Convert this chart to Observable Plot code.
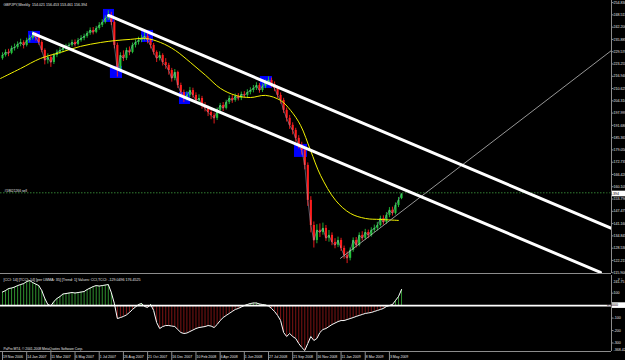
<!DOCTYPE html>
<html><head><meta charset="utf-8">
<script src="https://cdn.jsdelivr.net/npm/d3@7"></script>
<script src="https://cdn.jsdelivr.net/npm/@observablehq/plot@0.6"></script>
<style>
html,body{margin:0;padding:0;background:#000;}
#chart{position:relative;width:625px;height:360px;background:#000;overflow:hidden;}
#chart svg{position:absolute;left:0;display:block;}
</style></head><body><div id="chart"></div>
<script>
// ---------------- data ----------------
const symbolTitle = "GBPJPY,Weekly  154.021 156.453 153.461 156.394";
const indicatorTitle = "[CCI: 14] [TCCI: 14] [per LWMA: 35] [Trend: 1] Values: CCI,TCCI: -129.0496 176.4525";
const copyright = "PaPro MT4, \u00A9 2001-2008 MetaQuotes Software Corp.";
const orderLabel = "#18621266 sell";
const orderPrice = 157.0;
const lastPrice = 156.394;

const opens = [226.0,227.6,229.2,228.7,231.2,231.7,233.3,234.3,232.8,235.3,
236.4,237.9,236.9,234.3,230.2,225.1,226.6,224.0,227.6,229.2,
230.2,231.2,232.3,232.8,234.3,233.3,235.3,236.4,237.4,238.9,
240.5,239.5,241.5,243.1,244.6,246.6,248.2,244.6,232.8,219.9,
227.6,226.1,230.2,229.2,232.8,234.3,235.3,236.4,237.4,235.3,
232.8,229.2,226.1,227.6,224.0,222.5,219.9,215.8,218.9,212.2,
208.6,205.5,207.1,209.6,207.1,204.5,205.5,201.9,200.4,198.3,
196.8,195.3,199.4,201.9,200.4,203.5,205.5,204.5,206.6,205.5,
207.6,207.1,208.6,209.6,210.7,212.2,209.6,211.7,213.8,214.8,
212.7,210.7,207.1,204.5,199.4,195.3,191.7,189.1,185.0,181.4,
178.8,171.1,153.1,140.2,132.5,137.7,136.6,138.7,133.6,135.1,
131.5,130.0,132.5,128.4,124.8,123.3,127.4,132.5,130.0,135.1,
133.6,136.6,135.1,137.7,138.7,140.2,143.8,141.8,145.4,148.0,
146.4,150.5,154.021];
const highs = [229.0,230.5,230.8,232.4,233.5,234.6,236.0,235.2,236.5,238.0,
240.0,239.4,238.0,235.2,231.0,228.5,227.8,228.6,230.4,231.6,
232.5,233.4,234.0,235.5,235.6,236.4,237.8,238.6,240.0,241.8,
242.0,242.6,244.5,246.0,248.0,250.6,249.8,245.5,234.0,229.0,
230.0,231.4,232.0,234.0,235.6,237.0,238.0,240.0,238.8,236.2,
233.8,230.0,229.5,228.5,226.0,223.6,221.0,220.4,219.6,213.4,
209.8,209.0,211.2,210.8,208.4,207.4,206.6,203.4,201.6,199.8,
198.0,200.6,203.0,203.4,204.6,206.8,207.0,207.8,208.0,208.8,
209.0,210.0,211.0,212.2,213.6,213.2,213.0,215.0,216.6,216.0,
214.0,211.8,208.4,205.6,200.6,196.8,193.0,190.2,186.4,183.0,
179.8,172.4,155.0,142.0,140.6,141.0,141.4,140.2,137.6,136.4,
133.4,134.2,133.6,129.6,126.6,128.6,133.8,134.0,136.4,137.0,
138.2,137.8,139.0,140.4,141.8,145.0,145.2,146.8,149.4,149.6,
151.8,154.6,156.453];
const lows = [225.2,226.8,227.0,228.0,229.9,230.8,232.1,231.0,232.0,234.2,
235.5,235.0,232.9,229.0,222.8,223.2,221.5,223.0,226.5,228.1,
229.0,230.0,231.0,231.9,232.0,232.6,234.5,235.2,236.5,238.0,
238.2,238.8,240.6,242.0,243.8,245.5,243.0,231.0,216.5,219.0,
224.5,225.0,227.5,228.5,231.5,233.0,234.2,235.0,233.6,231.0,
227.8,224.0,224.8,222.2,220.5,217.5,213.9,214.6,210.6,206.4,
203.4,204.2,206.0,205.6,203.0,203.1,200.0,198.6,196.2,194.6,
192.4,194.2,198.2,198.8,199.6,202.4,203.0,203.6,204.2,204.4,
205.8,206.0,207.4,208.4,209.6,208.2,208.6,210.6,212.6,211.2,
209.0,205.6,202.6,197.8,193.4,189.6,186.8,183.0,179.6,176.4,
168.8,150.0,136.4,128.6,130.8,134.0,135.2,132.0,131.6,129.8,
128.2,128.8,126.8,122.8,120.6,122.0,126.4,128.6,129.2,132.2,
132.6,133.4,134.2,136.6,137.4,139.4,140.4,140.8,144.2,145.0,
145.6,149.4,153.461];
const closes = [227.6,229.2,228.7,231.2,231.7,233.3,234.3,232.8,235.3,236.4,
237.9,236.9,234.3,230.2,225.1,226.6,224.0,227.6,229.2,230.2,
231.2,232.3,232.8,234.3,233.3,235.3,236.4,237.4,238.9,240.5,
239.5,241.5,243.1,244.6,246.6,248.2,244.6,232.8,219.9,227.6,
226.1,230.2,229.2,232.8,234.3,235.3,236.4,237.4,235.3,232.8,
229.2,226.1,227.6,224.0,222.5,219.9,215.8,218.9,212.2,208.6,
205.5,207.1,209.6,207.1,204.5,205.5,201.9,200.4,198.3,196.8,
195.3,199.4,201.9,200.4,203.5,205.5,204.5,206.6,205.5,207.6,
207.1,208.6,209.6,210.7,212.2,209.6,211.7,213.8,214.8,212.7,
210.7,207.1,204.5,199.4,195.3,191.7,189.1,185.0,181.4,178.8,
171.1,153.1,140.2,132.5,137.7,136.6,138.7,133.6,135.1,131.5,
130.0,132.5,128.4,124.8,123.3,127.4,132.5,130.0,135.1,133.6,
136.6,135.1,137.7,138.7,140.2,143.8,141.8,145.4,148.0,146.4,
150.5,153.1,156.394];

// CCI-style oscillator, one value per weekly bar
const cciValues = [109,121,137,141,149,161,169,177,193,201,
185,173,161,121,57,9,-2,33,57,73,
93,97,101,105,101,105,109,113,129,141,
153,161,157,161,165,169,105,17,-104,-96,
-87,-75,-55,-31,-11,9,17,-7,-15,9,
-39,-136,-184,-168,-160,-160,-164,-168,-192,-216,
-224,-220,-208,-196,-184,-176,-172,-168,-160,-164,
-176,-152,-120,-96,-79,-63,-47,-31,-23,-11,
1,9,17,21,21,13,9,5,-3,-23,
-47,-79,-120,-216,-248,-224,-248,-264,-304,-336,
-360,-304,-248,-280,-264,-216,-192,-184,-168,-152,
-140,-128,-120,-120,-112,-104,-96,-87,-79,-71,
-63,-59,-55,-47,-39,-31,-23,-7,1,9,
41,73,129];

// slow moving average (yellow), read at sample weeks
const maWeeks  = [-0.66,5.95,12.57,19.19,25.8,32.4,37.4,42.3,47.3,52.3,57.2,62.2,67.2,72.1,77.1,82.0,87.0,92.0,95.3,98.6,101.9,105.2,110.2,115.1,120.1,125.0,131.0];
const maValues = [215.8,220.9,226.1,229.2,232.3,234.3,235.3,235.9,236.4,234.3,230.2,224.0,217.4,210.7,207.1,206.0,207.1,204.5,199.4,191.7,178.8,166.0,153.1,146.4,143.8,143.3,142.8];

// trend lines: [week, price] endpoints
const upperChannel = [[35.1,248.2],[201.46,138.7]];
const lowerChannel = [[10.25,238.9],[197.8,116.1]];
const supportLine  = [[111.8,123.3],[201.46,230.2]];

// blue rectangles: week range and price range
const boxWeek1 = [8.6,33.4,35.7,46.0,58.55,85.3,96.6];
const boxWeek2 = [12.57,37.05,39.7,49.95,62.2,89.3,100.9];
const boxTop   = [240.0,251.3,222.0,240.5,208.6,216.8,181.9];
const boxBot   = [233.8,244.6,215.8,234.3,202.4,210.7,175.2];

// axes
const tickWeeks = [0,8,16,24,32,40,48,56,64,72,80,88,96,104,112,120,128];
const tickDates = ["19 Nov 2006","14 Jan 2007","11 Mar 2007","6 May 2007","1 Jul 2007","26 Aug 2007","21 Oct 2007","16 Dec 2007","10 Feb 2008","6 Apr 2008","1 Jun 2008","27 Jul 2008","21 Sep 2008","16 Nov 2008","11 Jan 2009","8 Mar 2009","3 May 2009"];
const priceTicks = [254.830,248.515,242.200,235.885,229.570,223.255,216.940,210.625,204.310,197.995,191.680,185.365,179.050,172.735,166.420,160.105,153.790,147.475,141.160,134.845,128.530,122.215,115.900];
const cciTicks = [100,-100,-200,-300];
const cciTop = 241.75, cciBottom = -368.42;

const X_DOMAIN = [-0.66, 201.46];
const PRICE_DOMAIN = [115.5, 255.9];

// ---------------- drawing ----------------
const FONT = "'Liberation Sans', Arial, sans-serif";
const FS = "3.6px";
const UP = "#22c33a", DOWN = "#ff1e1e", AXIS = "#8c8c8c", TXT = "#e6e6e6";
const bars = closes.map((c,i)=>({i, o:opens[i], h:highs[i], l:lows[i], c, col: c>=opens[i]?UP:DOWN}));
const boxes = boxWeek1.map((w,k)=>({x1:w, x2:boxWeek2[k], y1:boxBot[k], y2:boxTop[k]}));
const ma = maWeeks.map((w,k)=>({w, v:maValues[k]}));
const seg = a => a.map(([w,p])=>({w,p}));
const root = document.getElementById("chart");
const baseStyle = {background:"transparent", color:TXT, fontFamily:FONT, fontSize:FS, overflow:"visible"};

const main = Plot.plot({
  width:625, height:274, marginTop:0, marginBottom:1, marginLeft:0, marginRight:14,
  style: baseStyle,
  x:{domain:X_DOMAIN, axis:null},
  y:{domain:PRICE_DOMAIN, axis:null},
  color:{type:"identity"},
  marks:[
    Plot.rect(boxes,{x1:"x1",x2:"x2",y1:"y1",y2:"y2",fill:"#0000ff"}),
    Plot.ruleY([orderPrice],{stroke:"#3f9f3f", strokeDasharray:"1.5,1.5", strokeWidth:0.8}),
    Plot.ruleX(bars,{x:"i", y1:"l", y2:"h", stroke:"col", strokeWidth:0.9}),
    Plot.ruleX(bars,{x:"i", y1:"o", y2:"c", stroke:"col", strokeWidth:2.1}),
    Plot.line(bars,{x:"i", y:"c", stroke:"#9fb3d1", strokeWidth:0.6, strokeOpacity:0.8}),
    Plot.line(ma,{x:"w", y:"v", stroke:"#f2f200", strokeWidth:1, curve:"catmull-rom", clip:true}),
    Plot.line(seg(supportLine),{x:"w", y:"p", stroke:"#bdbdbd", strokeWidth:0.8, clip:true}),
    Plot.line(seg(upperChannel),{x:"w", y:"p", stroke:"#ffffff", strokeWidth:3, clip:true}),
    Plot.line(seg(lowerChannel),{x:"w", y:"p", stroke:"#ffffff", strokeWidth:3, clip:true}),
    Plot.ruleX([X_DOMAIN[1]],{stroke:AXIS, strokeWidth:1}),
    Plot.ruleY([PRICE_DOMAIN[0]],{stroke:AXIS, strokeWidth:1}),
    Plot.axisY(priceTicks,{anchor:"right", tickSize:1.5, tickPadding:0.5, stroke:AXIS, fill:TXT, tickFormat:d=>d.toFixed(3)}),
    Plot.text([symbolTitle],{frameAnchor:"top-left", dx:3, dy:3, fill:TXT, textAnchor:"start"}),
    Plot.text([orderLabel],{x:X_DOMAIN[0], y:orderPrice, dx:4, dy:-2, fill:TXT, textAnchor:"start", fontSize:"3.3px"})
  ]
});
main.style.top = "0px";
root.appendChild(main);
{
  const yv = main.scale("y").apply(lastPrice);
  const sx = main.scale("x").apply(X_DOMAIN[1]);
  const s = d3.select(main);
  s.append("rect").attr("x",sx+1).attr("y",yv-2.8).attr("width",14).attr("height",5.6).attr("fill","#ffffff");
  s.append("text").attr("x",sx+1.5).attr("y",yv).attr("dy","0.35em").attr("fill","#000").attr("font-size",FS).attr("font-family",FONT).text(lastPrice.toFixed(3));
}

const cci = cciValues.map((v,i)=>({i, v, col: v>=0?"#2f8f2f":"#7d1414"}));
const ind = Plot.plot({
  width:625, height:78, marginTop:1, marginBottom:1, marginLeft:0, marginRight:14,
  style: baseStyle,
  x:{domain:X_DOMAIN, axis:null},
  y:{domain:[cciBottom, cciTop], axis:null},
  color:{type:"identity"},
  marks:[
    Plot.ruleX(cci,{x:"i", y1:0, y2:"v", stroke:"col", strokeWidth:1}),
    Plot.ruleY([0],{stroke:"#ffffff", strokeWidth:1.6}),
    Plot.line(cci,{x:"i", y:"v", stroke:"#ffffff", strokeWidth:1}),
    Plot.ruleX([X_DOMAIN[1]],{stroke:AXIS, strokeWidth:1}),
    Plot.ruleY([cciBottom],{stroke:AXIS, strokeWidth:1}),
    Plot.axisY(cciTicks,{anchor:"right", tickSize:1.5, tickPadding:0.5, stroke:AXIS, fill:TXT, tickFormat:d=>String(d)}),
    Plot.text([cciTop],{x:X_DOMAIN[1], y:cciTop, dx:2, dy:6, textAnchor:"start", fill:TXT, text:d=>d.toFixed(2)}),
    Plot.text([cciBottom],{x:X_DOMAIN[1], y:cciBottom, dx:2, dy:-1.5, textAnchor:"start", fill:TXT, text:d=>d.toFixed(2)}),
    Plot.text([indicatorTitle],{frameAnchor:"top-left", dx:3, dy:3, fill:TXT, textAnchor:"start"}),
    Plot.text([copyright],{frameAnchor:"bottom-left", dx:3, dy:-2, fill:TXT, textAnchor:"start", fontSize:"3.3px"})
  ]
});
ind.style.top = "274px";
root.appendChild(ind);
{
  const yv = ind.scale("y").apply(0);
  const sx = ind.scale("x").apply(X_DOMAIN[1]);
  const s = d3.select(ind);
  s.append("rect").attr("x",sx+1).attr("y",yv-2.8).attr("width",14).attr("height",5.6).attr("fill","#ffffff");
  s.append("text").attr("x",sx+1.5).attr("y",yv).attr("dy","0.35em").attr("fill","#000").attr("font-size",FS).attr("font-family",FONT).text("0.0000");
}

const dates = tickWeeks.map((w,k)=>({w, t:tickDates[k]}));
const dax = Plot.plot({
  width:625, height:8, marginTop:0, marginBottom:0, marginLeft:0, marginRight:14,
  style: baseStyle,
  x:{domain:X_DOMAIN, axis:null},
  marks:[
    Plot.tickX(dates,{x:"w", y1:0, y2:1.5, stroke:AXIS}),
    Plot.text(dates,{x:"w", text:"t", frameAnchor:"middle", dx:0.5, dy:0.5, textAnchor:"start", fill:TXT, fontSize:"3.5px"})
  ]
});
dax.style.top = "352px";
root.appendChild(dax);
</script></body></html>
